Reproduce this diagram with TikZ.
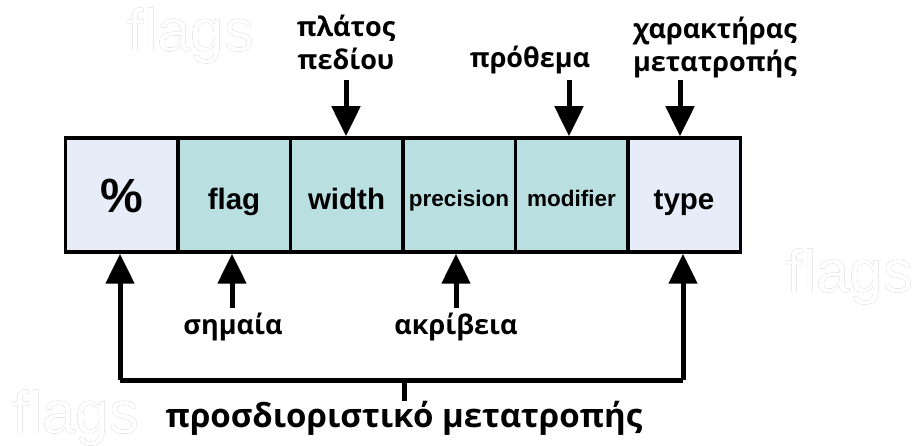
\documentclass[tikz,border=0pt]{standalone}
\usepackage{fontspec}
\setmainfont{Liberation Sans}
\newfontfamily\grk{Open Sans}
\usepackage[outline]{contour}
\usetikzlibrary{arrows.meta}
\definecolor{lightcell}{HTML}{E6ECF8}
\definecolor{tealcell}{HTML}{BADFE1}
\definecolor{wmgray}{HTML}{A0A0A0}
\contourlength{0.9pt}
\newcommand{\cellt}[2]{\raisebox{-#1}[0pt][0pt]{#2}}
\tikzset{
  cell/.style={draw=black, line width=3.5pt, minimum width=112.5pt, minimum height=114pt, inner sep=0pt, font=\bfseries\fontsize{29.5}{29.5}\selectfont},
  lightc/.style={cell, fill=lightcell},
  tealc/.style={cell, fill=tealcell},
  lbl/.style={font=\grk\bfseries\fontsize{27}{33}\selectfont, align=center, inner sep=0pt},
  arr/.style={line width=5pt, -{Triangle[width=28pt,length=30pt]}},
  brk/.style={line width=5pt},
  wm/.style={font=\fontsize{60}{60}\selectfont, inner sep=0pt}
}
\begin{document}
\begin{tikzpicture}[x=1pt,y=-1pt]
\useasboundingbox (0,0) rectangle (913,446);
\node[wm] (w1) at (191,36) {\contour{wmgray}{\textcolor{white}{flags}}};
\node[wm] (w2) at (850,277) {\contour{wmgray}{\textcolor{white}{flags}}};
\node[wm] (w3) at (76,418) {\contour{wmgray}{\textcolor{white}{flags}}};

\node[lightc, font=\bfseries\fontsize{48}{48}\selectfont] (pct) at (121.5,195) {\cellt{18pt}{\%}};
\node[tealc] (flag) at (234,195) {\cellt{15pt}{flag}};
\node[tealc] (width) at (346.5,195) {\cellt{15pt}{width}};
\node[tealc, font=\bfseries\fontsize{22.5}{22.5}\selectfont] (prec) at (459,195) {\cellt{12pt}{precision}};
\node[tealc, font=\bfseries\fontsize{22.5}{22.5}\selectfont] (mod) at (571.5,195) {\cellt{12pt}{modifier}};
\node[lightc] (type) at (684,195) {\cellt{15pt}{type}};

\node[lbl] (lw) at (346,42) {πλάτος\\πεδίου};
\node[lbl] (lm) at (530,60) {πρόθεμα};
\node[lbl] (lt) at (715,48) {χαρακτήρας\\μετατροπής};
\node[lbl] (ls) at (233,327) {σημαία};
\node[lbl] (lp) at (456,327) {ακρίβεια};
\node[lbl, font=\grk\bfseries\fontsize{33}{33}\selectfont] (lf) at (404,418) {προσδιοριστικό μετατροπής};

\coordinate (tw) at (346,80);
\coordinate (tm) at (569,80);
\coordinate (tt) at (680,80);
\draw[arr] (tw) -- (tw |- width.north);
\draw[arr] (tm) -- (tm |- mod.north);
\draw[arr] (tt) -- (tt |- type.north);

\coordinate (bs) at (232,308);
\coordinate (bp) at (456,308);
\draw[arr] (bs) -- (bs |- flag.south);
\draw[arr] (bp) -- (bp |- prec.south);

\coordinate (bl) at (120,380);
\coordinate (br) at (683,380);
\coordinate (bm) at (404,380);
\draw[brk] (bl) -- (br);
\draw[arr] (bl) -- (bl |- pct.south);
\draw[arr] (br) -- (br |- type.south);
\draw[brk] (bm) -- (bm |- lf.north);
\end{tikzpicture}
\end{document}
